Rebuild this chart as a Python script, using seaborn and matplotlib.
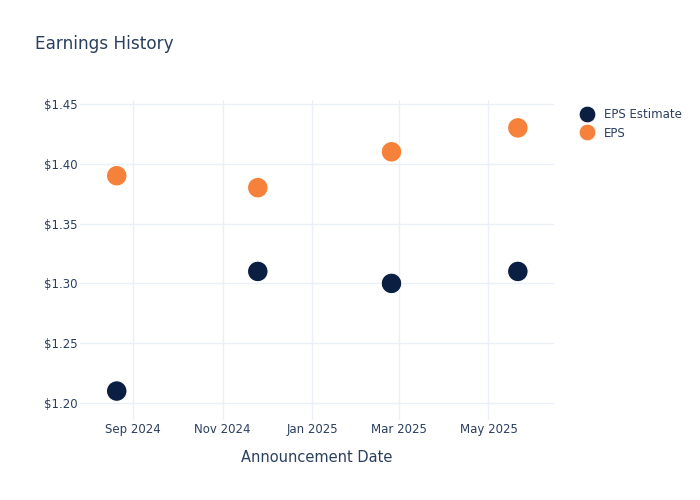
import pandas as pd
import matplotlib
matplotlib.use("Agg")
import matplotlib.pyplot as plt
import matplotlib.dates as mdates
from matplotlib.ticker import FuncFormatter
import seaborn as sns

# ── Data ────────────────────────────────────────────────────────────────────
dates        = ["2024-08-21", "2024-11-25", "2025-02-24", "2025-05-21"]
eps_estimate = [1.21, 1.31, 1.30, 1.31]
eps_actual   = [1.39, 1.38, 1.41, 1.43]
series_names = ["EPS Estimate", "EPS"]
colors       = ["#0b1f42", "#f5813a"]

TEXT = "#2a3f5f"
GRID = "#ebf0f8"

df = pd.DataFrame({
    "date":  pd.to_datetime(dates * 2),
    "value": eps_estimate + eps_actual,
    "series": [series_names[0]] * len(dates) + [series_names[1]] * len(dates),
})

sns.set_theme(style="white")
plt.rcParams["font.family"] = ["DejaVu Sans"]

fig = plt.figure(figsize=(7, 5), dpi=100)
ax = fig.add_axes([80 / 700, 80 / 500, 474 / 700, 320 / 500])

sns.scatterplot(data=df, x="date", y="value", hue="series", hue_order=series_names,
                palette=colors, s=220, edgecolor="white", linewidth=0.8,
                ax=ax, zorder=3, legend=False)

ax.set_xlim(pd.Timestamp("2024-07-27"), pd.Timestamp("2024-07-27") + pd.Timedelta(days=322.6))
ax.set_ylim(1.1858, 1.4533)
ax.set_yticks([1.20, 1.25, 1.30, 1.35, 1.40, 1.45])
ax.yaxis.set_major_formatter(FuncFormatter(lambda v, _: f"${v:.2f}"))
ax.xaxis.set_major_locator(mdates.MonthLocator(bymonth=[1, 3, 5, 9, 11]))
ax.xaxis.set_major_formatter(mdates.DateFormatter("%b %Y"))

ax.grid(True, color=GRID, linewidth=1)
ax.set_axisbelow(True)
for s in ax.spines.values():
    s.set_visible(False)
ax.tick_params(axis="both", length=0, labelsize=8.5, labelcolor=TEXT)
ax.tick_params(axis="x", pad=2)
ax.tick_params(axis="y", pad=1.5)

ax.set_xlabel("Announcement Date", fontsize=10.5, color=TEXT, labelpad=10)
ax.set_ylabel("")
fig.text(35 / 700, 1 - 44 / 500, "Earnings History", fontsize=12.2, color=TEXT, va="center")

# legend (plotly style, top right)
handles = [plt.Line2D([], [], marker="o", linestyle="", markersize=12,
                      markerfacecolor=c, markeredgecolor="white", markeredgewidth=0.6)
           for c in colors]
fig.legend(handles, series_names, loc="upper left", bbox_to_anchor=(570 / 700, 1 - 103 / 500),
           frameon=False, fontsize=8.5, labelcolor=TEXT, handletextpad=0.5,
           labelspacing=0.5, borderaxespad=0)

fig.savefig("out.png", dpi=100)
